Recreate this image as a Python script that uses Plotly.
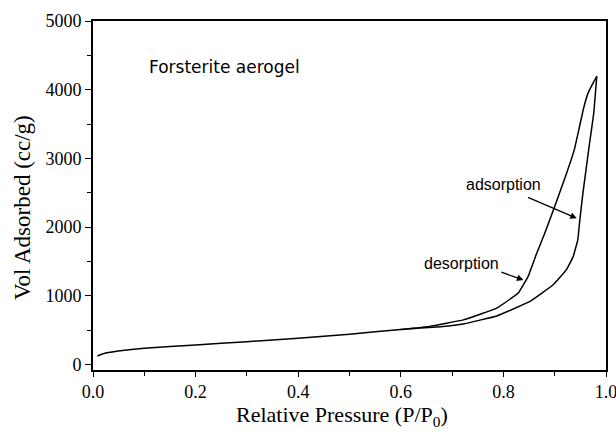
import plotly.graph_objects as go

# Adsorption branch (lower branch at high P)
ads_p = [0.0085, 0.023, 0.049, 0.10, 0.20, 0.30, 0.40, 0.50, 0.60, 0.678, 0.722,
         0.787, 0.851, 0.897, 0.923, 0.936, 0.945, 0.949, 0.955, 0.968, 0.976, 0.982]
ads_v = [124, 163, 197, 236, 284, 333, 382, 440, 510, 551, 590,
         707, 915, 1160, 1380, 1570, 1815, 2106, 2495, 3224, 3650, 4195]

# Desorption branch (upper branch, from top down)
des_p = [0.982, 0.975, 0.965, 0.956, 0.948, 0.938, 0.923, 0.900, 0.880, 0.864, 0.848,
         0.829, 0.787, 0.722, 0.656, 0.60]
des_v = [4195, 4100, 3950, 3720, 3450, 3120, 2780, 2300, 1900, 1600, 1280,
         1040, 820, 650, 555, 510]

x_ticks = [0.0, 0.2, 0.4, 0.6, 0.8, 1.0]
x_tick_labels = ["0.0", "0.2", "0.4", "0.6", "0.8", "1.0"]
y_ticks = [0, 1000, 2000, 3000, 4000, 5000]

fig = go.Figure()
fig.add_trace(go.Scatter(x=ads_p, y=ads_v, mode="lines", name="adsorption",
                         line=dict(color="black", width=1.5, shape="spline", smoothing=0.25)))
fig.add_trace(go.Scatter(x=des_p, y=des_v, mode="lines", name="desorption",
                         line=dict(color="black", width=1.5, shape="spline", smoothing=0.25)))

serif = "Liberation Serif, Times New Roman, serif"
sans = "Liberation Sans, Arial, sans-serif"

fig.update_layout(
    width=616, height=436,
    margin=dict(l=93, r=10, t=21, b=66),
    paper_bgcolor="white", plot_bgcolor="white",
    showlegend=False,
    xaxis=dict(range=[0, 1.0], tickvals=x_ticks, ticktext=x_tick_labels,
               automargin=False, ticklabeloverflow="allow",
               ticks="outside", ticklen=5, tickwidth=1.3, tickcolor="black",
               minor=dict(dtick=0.1, ticks="outside", ticklen=4, tickwidth=1.2, tickcolor="black"),
               showline=True, linecolor="black", linewidth=1.6, mirror=True,
               showgrid=False, zeroline=False,
               tickfont=dict(family=serif, size=18, color="black")),
    yaxis=dict(range=[-80, 5000], tickvals=y_ticks,
               automargin=False, ticklabeloverflow="allow",
               ticks="outside", ticklen=6, tickwidth=1.3, tickcolor="black",
               minor=dict(dtick=500, ticks="outside", ticklen=4, tickwidth=1.2, tickcolor="black"),
               showline=True, linecolor="black", linewidth=1.6, mirror=True,
               showgrid=False, zeroline=False,
               tickfont=dict(family=serif, size=18, color="black")),
)

# axis titles
fig.add_annotation(x=0.486, y=0, xref="paper", yref="paper", yshift=-46,
                   text="Relative Pressure (P/P<sub>0</sub>)", showarrow=False,
                   xanchor="center", yanchor="middle",
                   font=dict(family=serif, size=22, color="black"))
fig.add_annotation(x=0, y=0.464, xref="paper", yref="paper", xshift=-71,
                   text="Vol Adsorbed (cc/g)", showarrow=False, textangle=-90,
                   xanchor="center", yanchor="middle",
                   font=dict(family=serif, size=23, color="black"))

fig.add_annotation(x=0.105, y=4330, xref="x", yref="y", text="Forsterite aerogel",
                   showarrow=False, xanchor="left", yanchor="middle",
                   font=dict(family="DejaVu Sans, sans-serif", size=17, color="black"))
fig.add_annotation(x=0.80, y=2613, xref="x", yref="y", text="adsorption",
                   showarrow=False, font=dict(family=sans, size=16, color="black"))
fig.add_annotation(x=0.718, y=1477, xref="x", yref="y", text="desorption",
                   showarrow=False, font=dict(family=sans, size=16, color="black"))
# arrows
fig.add_annotation(x=0.943, y=2128, ax=0.845, ay=2443, xref="x", yref="y",
                   axref="x", ayref="y", text="", showarrow=True,
                   arrowhead=2, arrowsize=1, arrowwidth=1.3, arrowcolor="black")
fig.add_annotation(x=0.839, y=1230, ax=0.793, ay=1351, xref="x", yref="y",
                   axref="x", ayref="y", text="", showarrow=True,
                   arrowhead=2, arrowsize=1, arrowwidth=1.3, arrowcolor="black")

fig.write_html(
    "out.html",
    config={"displayModeBar": False},
    post_script="document.body.style.margin='0';document.body.style.overflow='hidden';",
)
